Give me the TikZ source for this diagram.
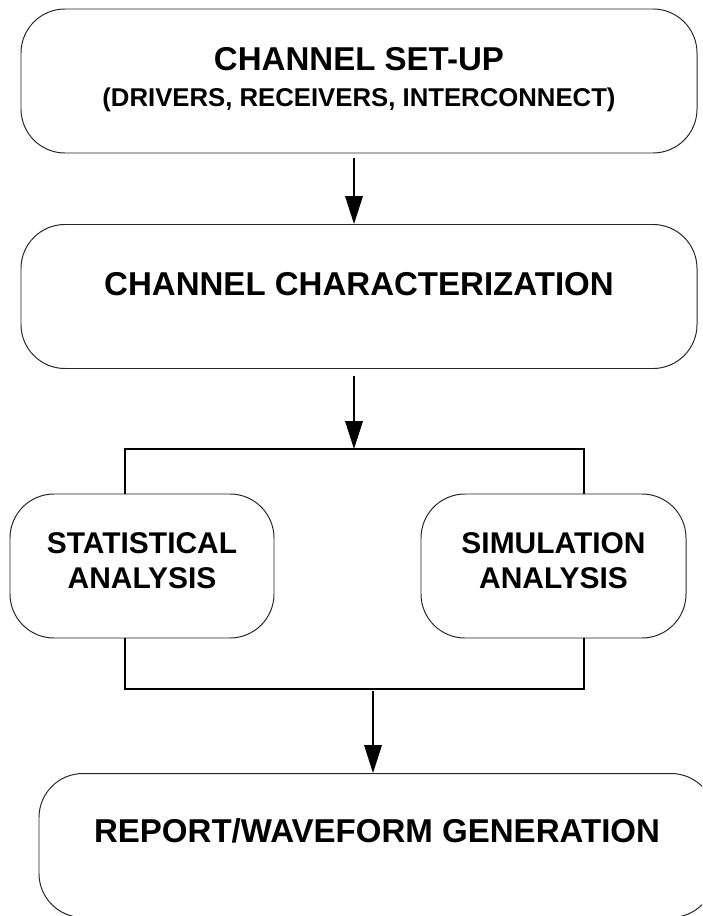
\documentclass[tikz,border=0pt]{standalone}
\usepackage{fontspec}
\setmainfont{Liberation Sans}
\usetikzlibrary{arrows.meta,positioning}

\begin{document}
\begin{tikzpicture}[
  font=\fontsize{23.5}{26}\selectfont\bfseries,
  >={Triangle[length=7mm,width=4.4mm]},
  stage/.style={
    draw=black!85,
    rounded corners=11mm,
    line width=0.7pt,
    align=center,
    minimum width=16.9cm,
    minimum height=3.6cm,
    inner sep=0pt
  },
  analysis/.style={
    stage,
    minimum width=6.6cm,
    font=\fontsize{21.3}{24.9}\selectfont\bfseries
  },
  flow/.style={
    ->,
    line width=1.2pt
  },
  link/.style={
    line width=1.2pt
  }
]

\useasboundingbox (0,0) rectangle (17.55,-22.9);
\clip (0,0) rectangle (17.55,-22.9);

% Main stages
\node[stage, text depth=2mm] (setup) at (8.975,-2.025)
  {CHANNEL SET-UP\\{\fontsize{18.3}{22}\selectfont(DRIVERS, RECEIVERS, INTERCONNECT)}};
\node[stage, text depth=6.25mm] (charact) at (8.975,-7.4125)
  {CHANNEL CHARACTERIZATION};

% Parallel analysis branches
\node[analysis, text depth=2.5mm] (statistical) at (3.55,-14.15)
  {STATISTICAL\\ANALYSIS};
\node[analysis, text depth=2.5mm, minimum width=6.625cm] (simulation) at (13.8375,-14.15)
  {SIMULATION\\ANALYSIS};

\node[stage, text depth=7.25mm] (report) at (9.425,-21.1375)
  {REPORT/WAVEFORM GENERATION};

% Split and join bars
\coordinate (split) at (8.85,-11.225);
\coordinate (splitL) at (3.125,-11.225);
\coordinate (splitR) at (14.6,-11.225);
\coordinate (join) at (9.325,-17.225);
\coordinate (joinL) at (3.125,-17.225);
\coordinate (joinR) at (14.6,-17.225);

\draw[flow] ([xshift=-1.25mm,yshift=-1.25mm]setup.south) -- ([xshift=-1.25mm]charact.north);
\draw[flow] ([yshift=-1.75mm]charact.south -| split) -- (split);
\draw[link] (splitL |- statistical.north) -- (splitL) -- (splitR) -- (splitR |- simulation.north);
\draw[link] (joinL |- statistical.south) -- (joinL) -- (joinR) -- (joinR |- simulation.south);
\draw[flow] ([yshift=-0.5mm]join) -- (join |- report.north);

\end{tikzpicture}
\end{document}
